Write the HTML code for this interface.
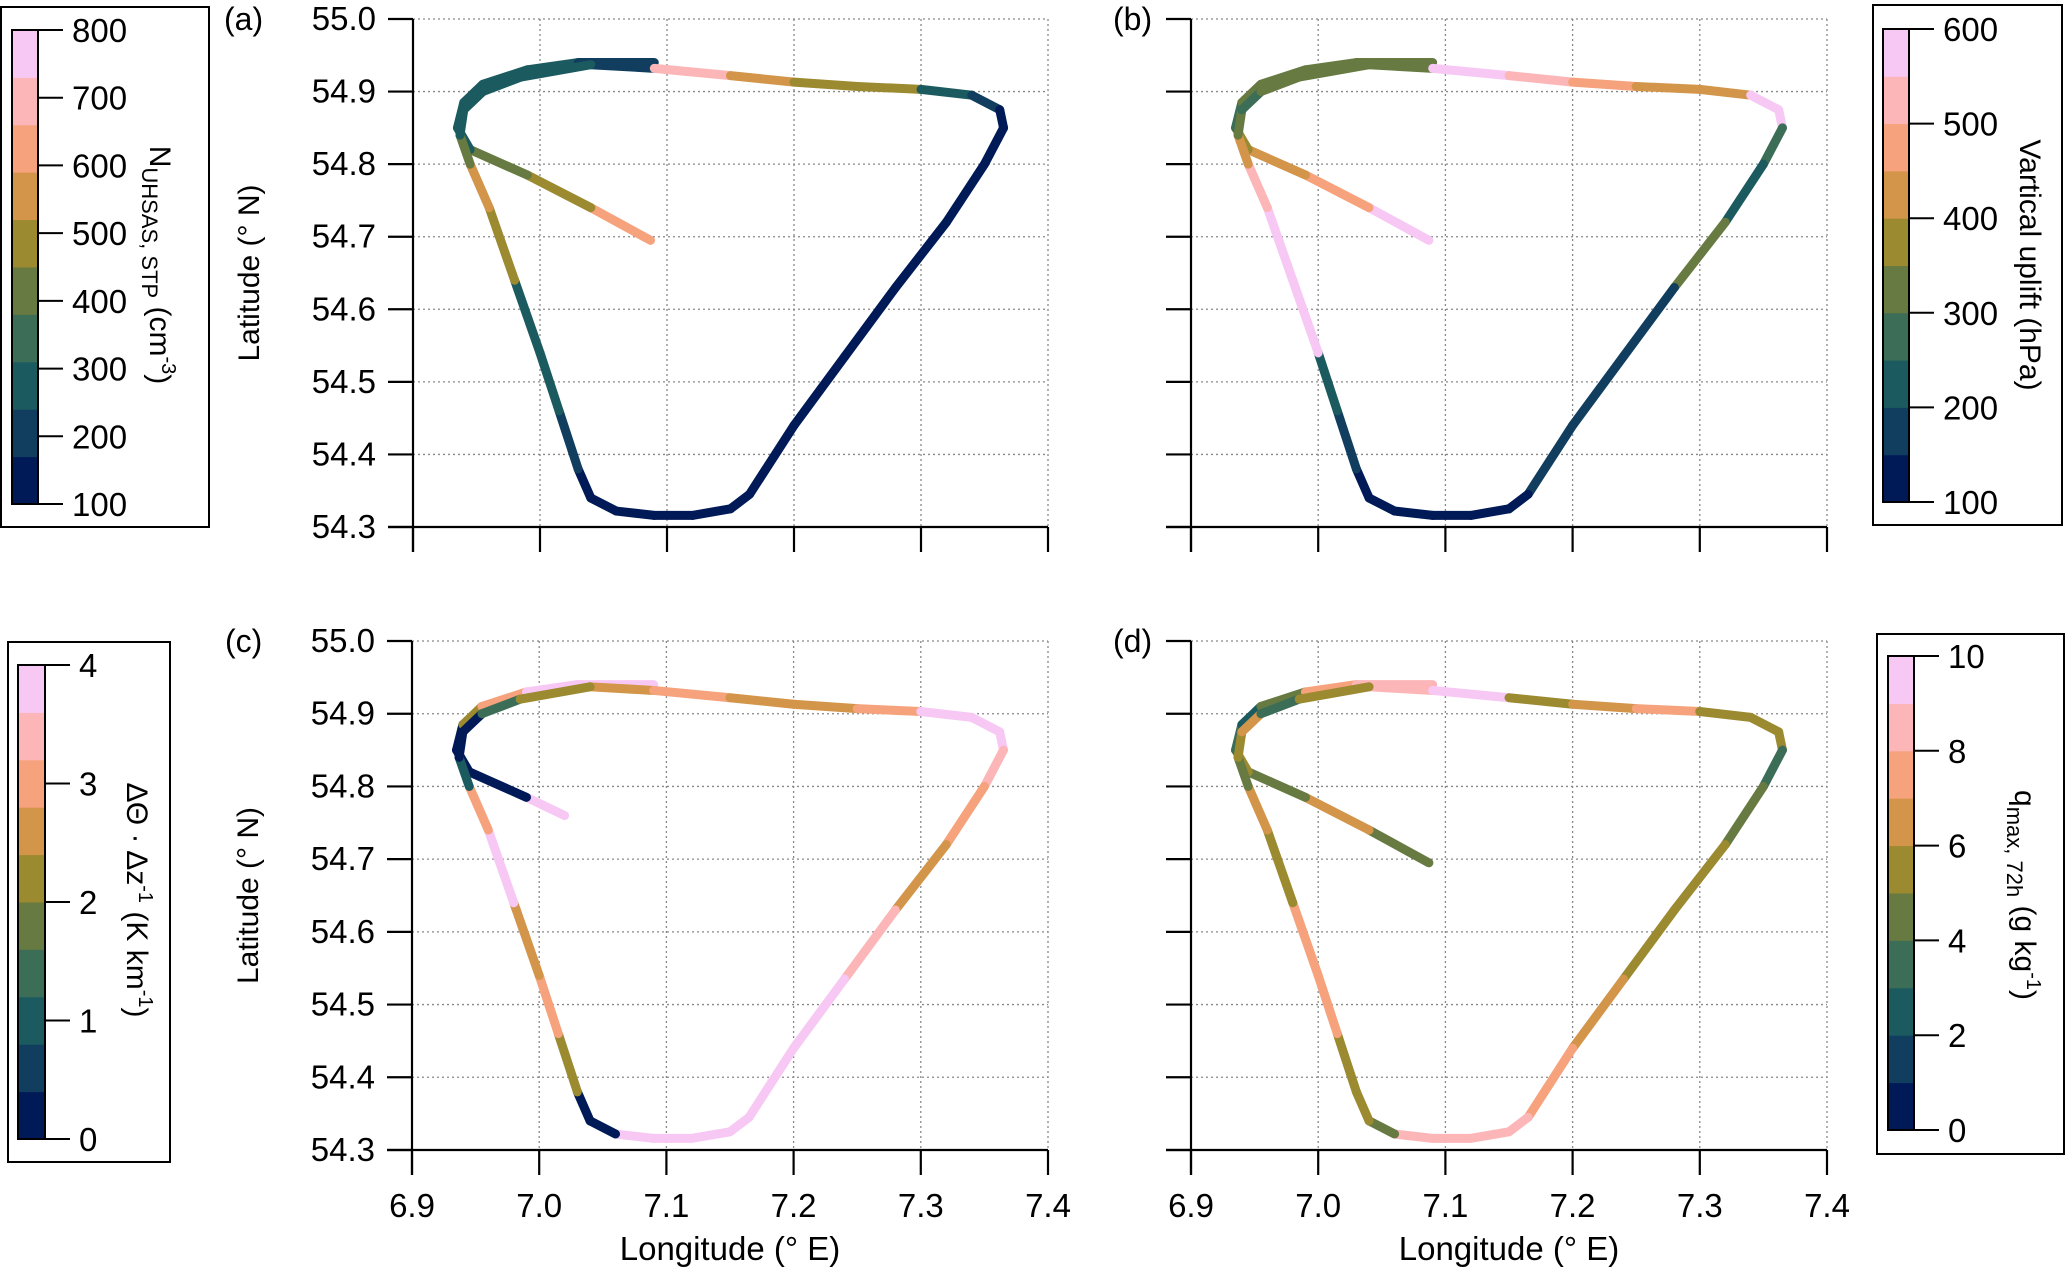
<!DOCTYPE html>
<html><head><meta charset="utf-8"><style>
html,body{margin:0;padding:0;background:#fff;}
svg{display:block;}
text{font-family:"Liberation Sans Narrow","Liberation Sans",sans-serif;fill:#000;}
.t{font-family:"Liberation Sans",sans-serif;}
</style></head><body>
<svg id="fig" width="2067" height="1275" viewBox="0 0 2067 1275" xmlns="http://www.w3.org/2000/svg"></svg>
<script>
// ---- data ----
const lonTicks = [6.9, 7.0, 7.1, 7.2, 7.3, 7.4];
const latTicks = [54.3, 54.4, 54.5, 54.6, 54.7, 54.8, 54.9, 55.0];
// flight track waypoints (lon, lat)
const track1Lon = [7.087, 7.04, 6.99, 6.945, 6.935, 6.94, 6.955, 6.99, 7.03, 7.09];
const track1Lat = [54.695, 54.74, 54.785, 54.82, 54.85, 54.885, 54.91, 54.93, 54.94, 54.94];
const track1cLon = [7.02, 6.99, 6.945, 6.935, 6.94, 6.955, 6.99, 7.03, 7.09];
const track1cLat = [54.76, 54.785, 54.82, 54.85, 54.885, 54.91, 54.93, 54.94, 54.94];
const track2Lon = [7.04, 7.09, 7.15, 7.2, 7.25, 7.3, 7.34, 7.362, 7.365, 7.35, 7.32, 7.28, 7.24, 7.2, 7.165, 7.15, 7.12, 7.09, 7.06, 7.04, 7.03, 7.015, 7.0, 6.98, 6.96, 6.945, 6.937, 6.94, 6.955, 6.985, 7.04];
const track2Lat = [54.937, 54.932, 54.922, 54.913, 54.907, 54.903, 54.895, 54.875, 54.85, 54.8, 54.72, 54.63, 54.535, 54.44, 54.345, 54.325, 54.316, 54.316, 54.322, 54.34, 54.38, 54.46, 54.54, 54.64, 54.74, 54.8, 54.84, 54.875, 54.9, 54.92, 54.937];
// per-segment values
const nA1 = [600, 500, 400, 300, 300, 300, 300, 250, 200];
const nA2 = [200, 700, 550, 500, 450, 300, 200, 120, 120, 120, 120, 120, 120, 120, 120, 120, 120, 120, 150, 150, 200, 250, 300, 500, 550, 400, 300, 300, 250, 300];
const upB1 = [550, 450, 400, 350, 250, 300, 300, 300, 300];
const upB2 = [300, 550, 500, 450, 420, 400, 550, 580, 250, 200, 300, 180, 180, 150, 120, 120, 120, 120, 120, 130, 150, 200, 580, 560, 500, 400, 300, 250, 300, 300];
const dtC1 = [3.9, 0.3, 0.3, 0.3, 2.0, 3.0, 3.8, 3.9];
const dtC2 = [2.5, 3.0, 2.5, 2.5, 3.0, 3.9, 3.9, 3.9, 3.2, 2.8, 2.6, 3.5, 3.9, 3.9, 3.9, 3.9, 3.9, 3.9, 0.3, 0.3, 2.0, 3.0, 2.5, 3.9, 3.0, 1.0, 0.3, 0.3, 1.5, 2.0];
const qD1 = [4.5, 6, 4, 5, 3, 2.5, 4, 7, 8];
const qD2 = [8, 9, 5, 6, 7, 5, 5.5, 5, 3.5, 4.5, 5, 5.5, 6.5, 7, 8.5, 8.5, 8.5, 8, 4, 5, 5.5, 7, 7, 5.5, 6, 4, 5, 6, 3, 5];
const cbTicksA = [100, 200, 300, 400, 500, 600, 700, 800];
const cbTicksB = [100, 200, 300, 400, 500, 600];
const cbTicksC = [0, 1, 2, 3, 4];
const cbTicksD = [0, 2, 4, 6, 8, 10];

const cmap = ['#001a57','#113e5f','#1b5b60','#3b6d57','#667a41','#9c8a30','#d39549','#f6a27c','#fcb6b8','#f8c8f5'];
const NS = 'http://www.w3.org/2000/svg';
const svg = document.getElementById('fig');
function mk(tag, attrs, parent, txt){
  const e = document.createElementNS(NS, tag);
  for (const k in attrs) e.setAttribute(k, attrs[k]);
  if (txt !== undefined) e.textContent = txt;
  (parent || svg).appendChild(e);
  return e;
}
function colorFor(v, vmin, vmax){
  let i = Math.floor((v - vmin) / (vmax - vmin) * 10);
  if (i < 0) i = 0; if (i > 9) i = 9;
  return cmap[i];
}

function panel(name, label, lx, L, T, R, B, showX, tracks, vmin, vmax){
  const g = mk('g', {}, svg);
  
  
  const xs = v => L + (v - 6.9) / 0.5 * (R - L);
  const ys = v => B - (v - 54.3) / 0.7 * (B - T);
  lonTicks.forEach(t => { if (t > 6.9) { const l = mk('line', {x1: xs(t), x2: xs(t), y1: T, y2: B, stroke: '#888', 'stroke-width': 1.3, 'stroke-dasharray': '2,3'}, g);   }});
  latTicks.forEach(t => { if (t > 54.3) { const l = mk('line', {x1: L, x2: R, y1: ys(t), y2: ys(t), stroke: '#888', 'stroke-width': 1.3, 'stroke-dasharray': '2,3'}, g);   }});
  tracks.forEach(tr => {
    for (let i = 0; i < tr.lon.length - 1; i++) {
      const s = mk('line', {x1: xs(tr.lon[i]), y1: ys(tr.lat[i]), x2: xs(tr.lon[i+1]), y2: ys(tr.lat[i+1]), stroke: colorFor(tr.val[i], vmin, vmax), 'stroke-width': 9, 'stroke-linecap': 'round'}, g);
      
      
    }
  });
  const ax = mk('g', {stroke: '#000', 'stroke-width': 2.2}, g);
  
  
  mk('line', {x1: L, x2: L, y1: T, y2: B + 25}, ax);
  mk('line', {x1: L - 25, x2: R, y1: B, y2: B}, ax);
  latTicks.forEach(t => mk('line', {x1: L - 25, x2: L, y1: ys(t), y2: ys(t)}, ax));
  lonTicks.forEach(t => mk('line', {x1: xs(t), x2: xs(t), y1: B, y2: B + 25}, ax));
  if (showX.y) {
    latTicks.forEach(t => { const e = mk('text', {x: L - 37, y: ys(t) + 11, 'font-size': 33, 'text-anchor': 'end'}, g, t.toFixed(1));   });
    const yt = mk('text', {class: 't', x: 0, y: 0, 'font-size': 30, 'text-anchor': 'middle', transform: `translate(${L - 154},${(T + B) / 2}) rotate(-90)`}, g, 'Latitude (° N)');
    
    
  }
  if (showX.x) {
    lonTicks.forEach(t => { const e = mk('text', {x: xs(t), y: B + 67, 'font-size': 33, 'text-anchor': 'middle'}, g, t.toFixed(1));   });
    const xt = mk('text', {x: (L + R) / 2, y: B + 110, 'font-size': 33, 'text-anchor': 'middle'}, g, 'Longitude (° E)');
    
    
  }
  const pl = mk('text', {x: lx, y: T + 11, 'font-size': 32}, g, label);
  
  
}

function colorbar(name, bx0, by0, bx1, by1, cx0, cy0, cx1, cy1, ticks, vmin, vmax, titleHTML, tx, ty){
  const g = mk('g', {}, svg);
  
  
  mk('rect', {x: bx0, y: by0, width: bx1 - bx0, height: by1 - by0, fill: '#fff', stroke: '#000', 'stroke-width': 2}, g);
  const h = (cy1 - cy0) / 10;
  for (let i = 0; i < 10; i++) mk('rect', {x: cx0, y: cy1 - (i + 1) * h, width: cx1 - cx0, height: h + 0.5, fill: cmap[i]}, g);
  mk('rect', {x: cx0, y: cy0, width: cx1 - cx0, height: cy1 - cy0, fill: 'none', stroke: '#000', 'stroke-width': 2}, g);
  ticks.forEach(t => {
    const y = cy1 - (t - vmin) / (vmax - vmin) * (cy1 - cy0);
    mk('line', {x1: cx1, x2: cx1 + 25, y1: y, y2: y, stroke: '#000', 'stroke-width': 2}, g);
    const e = mk('text', {x: cx1 + 34, y: y + 12, 'font-size': 33}, g, String(t));
    
    
  });
  const tt = mk('text', {class: 't', x: 0, y: 0, 'font-size': 30, 'text-anchor': 'middle', transform: `translate(${tx},${ty}) rotate(90)`}, g);
  tt.innerHTML = titleHTML;
  
  
}

panel('a', '(a)', 224, 413, 19, 1048, 527, {x: false, y: true},
  [{lon: track1Lon, lat: track1Lat, val: nA1}, {lon: track2Lon, lat: track2Lat, val: nA2}], 100, 800);
panel('b', '(b)', 1113, 1191, 19, 1827, 527, {x: false, y: false},
  [{lon: track1Lon, lat: track1Lat, val: upB1}, {lon: track2Lon, lat: track2Lat, val: upB2}], 100, 600);
panel('c', '(c)', 225, 412, 641, 1048, 1150, {x: true, y: true},
  [{lon: track1cLon, lat: track1cLat, val: dtC1}, {lon: track2Lon, lat: track2Lat, val: dtC2}], 0, 4);
panel('d', '(d)', 1113, 1191, 641, 1827, 1150, {x: true, y: false},
  [{lon: track1Lon, lat: track1Lat, val: qD1}, {lon: track2Lon, lat: track2Lat, val: qD2}], 0, 10);

colorbar('a', 1, 7, 209, 527, 12, 30, 38, 504, cbTicksA, 100, 800,
  'N<tspan font-size="22" dy="8">UHSAS, STP</tspan><tspan dy="-8"> (cm</tspan><tspan font-size="20" dy="-12">-3</tspan><tspan dy="12">)</tspan>', 150, 265);
colorbar('b', 1873, 5, 2062, 525, 1883, 29, 1909, 502, cbTicksB, 100, 600,
  'Vartical uplift (hPa)', 2020, 265);
colorbar('c', 8, 642, 170, 1162, 18, 665, 45, 1139, cbTicksC, 0, 4,
  'ΔΘ · Δz<tspan font-size="20" dy="-12">-1</tspan><tspan dy="12"> (K km</tspan><tspan font-size="20" dy="-12">-1</tspan><tspan dy="12">)</tspan>', 127, 900);
colorbar('d', 1877, 634, 2064, 1154, 1888, 656, 1914, 1130, cbTicksD, 0, 10,
  'q<tspan font-size="22" dy="8">max, 72h</tspan><tspan dy="-8"> (g kg</tspan><tspan font-size="20" dy="-12">-1</tspan><tspan dy="12">)</tspan>', 2015, 895);
</script>
</body></html>
